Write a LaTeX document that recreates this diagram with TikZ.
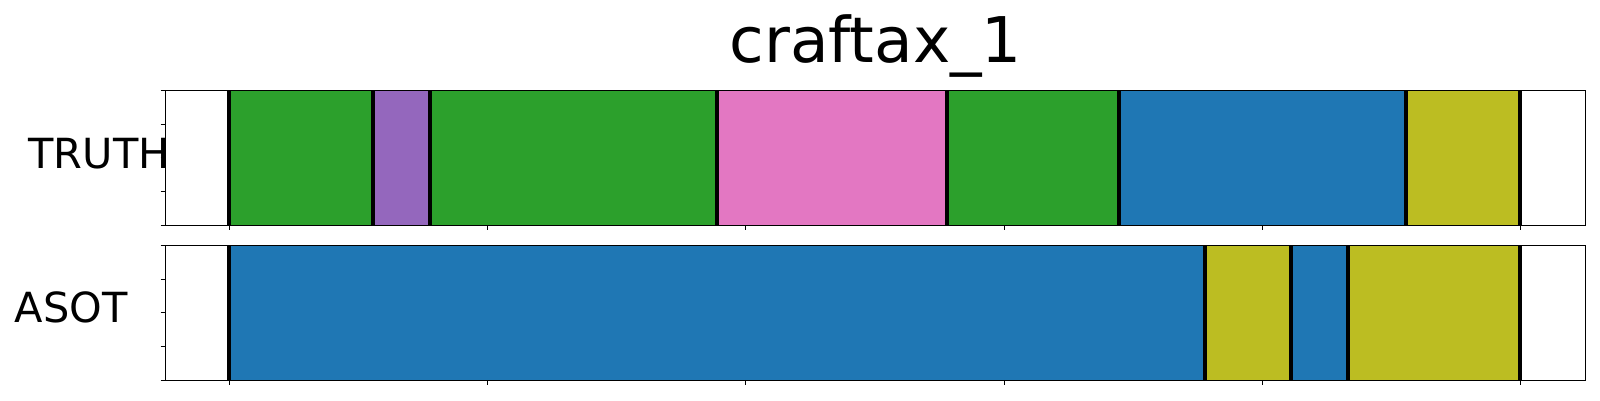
\documentclass[tikz,border=0pt]{standalone}
\usepackage{fontspec}
\setmainfont{DejaVu Sans}
\definecolor{tgreen}{HTML}{2CA02C}
\definecolor{tpurple}{HTML}{9467BD}
\definecolor{tpink}{HTML}{E377C2}
\definecolor{tblue}{HTML}{1F77B4}
\definecolor{tolive}{HTML}{BCBD22}
\tikzset{
  seg/.style={fill=#1, draw=none},
  bound/.style={line width=4.2pt, draw=black},
  frame/.style={line width=1.2pt, draw=black},
  tickmark/.style={line width=0.8pt, draw=black},
  lbl/.style={inner sep=0pt, anchor=base west, font=\fontsize{41.5}{41.5}\selectfont},
}
\begin{document}
\begin{tikzpicture}[x=1pt,y=-1pt]
\useasboundingbox (0,0) rectangle (1600,400);
\fill[white] (0,0) rectangle (1600,400);
% title
\node[inner sep=0pt, anchor=base, font=\fontsize{63}{63}\selectfont] (title) at (875.7,62.7) {craftax\_1};
% labels
\node[lbl] (truth) at (28.3,168.5) {TRUTH};
\node[lbl] (asot) at (14.5,322.9) {ASOT};
% top axis segments
\def\ytop{90.3}\def\ybot{225.3}
\foreach \a/\b/\c in {229/373/tgreen, 373/430/tpurple, 430/717/tgreen, 717/947/tpink, 947/1119/tgreen, 1119/1405.8/tblue, 1405.8/1520.2/tolive}{
  \path[seg=\c] (\a,\ytop) rectangle (\b,\ybot);
}
\foreach \x in {229,373,430,717,947,1119,1405.8,1520.2}{
  \draw[bound] (\x,\ytop) -- (\x,\ybot);
}
% bottom axis segments
\def\ytopb{245.3}\def\ybotb{380.3}
\foreach \a/\b/\c in {229/1205/tblue, 1205/1291/tolive, 1291/1348/tblue, 1348/1520.2/tolive}{
  \path[seg=\c] (\a,\ytopb) rectangle (\b,\ybotb);
}
\foreach \x in {229,1205,1291,1348,1520.2}{
  \draw[bound] (\x,\ytopb) -- (\x,\ybotb);
}
% frames
\draw[frame] (165.7,90.3) rectangle (1585.7,225.3);
\draw[frame] (165.7,245.3) rectangle (1585.7,380.3);
% ticks
\foreach \k in {0,...,4}{
  \draw[tickmark] (160.7,{90.3+33.75*\k}) -- (165.7,{90.3+33.75*\k});
  \draw[tickmark] (160.7,{245.3+33.75*\k}) -- (165.7,{245.3+33.75*\k});
}
\foreach \k in {0,...,5}{
  \draw[tickmark] ({229.3+258.2*\k},225.3) -- ({229.3+258.2*\k},230.3);
  \draw[tickmark] ({229.3+258.2*\k},380.3) -- ({229.3+258.2*\k},385.3);
}
\end{tikzpicture}
\end{document}
